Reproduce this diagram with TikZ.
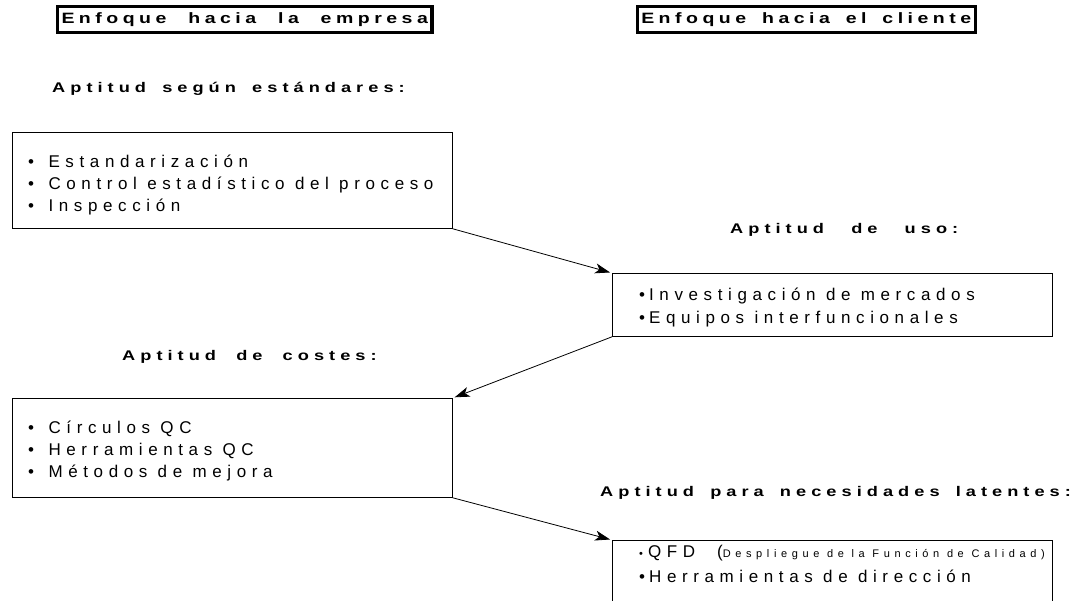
\documentclass[tikz,border=0pt]{standalone}
\usepackage{fontspec}
\setmainfont{Liberation Sans}
\newfontfamily\lista[LetterSpace=33]{Liberation Sans}
\newfontfamily\rotulo[LetterSpace=36, FakeStretch=1.3, WordSpace=1.6]{Liberation Sans}
\newfontfamily\encabezado[LetterSpace=30, FakeStretch=1.3, WordSpace=1.6]{Liberation Sans}
\newfontfamily\nota[LetterSpace=42]{Liberation Sans}
\usepackage{tikz}
\usetikzlibrary{positioning,arrows.meta}
\newcommand{\vineta}[1]{\textbullet\hspace{#1}}

\begin{document}
\begin{tikzpicture}[x=1pt, y=-1pt,
    caja/.style={draw, line width=0.8pt, minimum width=440pt, anchor=north west, inner sep=0pt},
    texto/.style={anchor=north west, inner sep=0pt, align=left, font=\lista\fontsize{17}{22}\selectfont},
    titulo/.style={anchor=base west, inner sep=0pt, font=\rotulo\bfseries\fontsize{14}{17}\selectfont},
    cabecera/.style={draw, line width=3.5pt, anchor=north west, minimum height=26pt, inner xsep=4pt, font=\encabezado\bfseries\fontsize{15}{18}\selectfont},
    flecha/.style={-{Stealth[length=15pt, width=10pt, inset=4pt]}, line width=0.8pt, shorten >=2pt}]
        \useasboundingbox (0,0) rectangle (1071,600);

        % Cabeceras
        \node[cabecera] (E1) at (55.75,4.75) {Enfoque\hspace{6pt} hacia\hspace{6pt} la\hspace{6pt} empresa\hspace{6pt}};
        \node[cabecera] (E2) at (635.5,4.75) {Enfoque hacia el cliente\hspace{4pt}};

        % Titulos
        \node[titulo] (T1) at (52,92) {Aptitud según estándares:};
        \node[titulo] (T2) at (730,233) {Aptitud\hspace{11pt} de\hspace{11pt} uso:};
        \node[titulo] (T3) at (122,360) {Aptitud\hspace{4pt} de\hspace{4pt} costes:};
        \node[titulo] (T4) at (600,496) {Aptitud para necesidades latentes:};

        % Cajas
        \node[caja, minimum height=96pt] (C1) at (12,132) {};
        \node[caja, minimum height=63pt] (C2) at (612,273) {};
        \node[caja, minimum height=99pt] (C3) at (12,398) {};
        \node[caja, minimum height=80pt] (C4) at (612,540) {};

        % Contenido
        \node[texto] (L1) at (28,154.6) {\vineta{14.4pt}Estandarización\\
            \vineta{14.4pt}Control estadístico del proceso\\
            \vineta{14.4pt}Inspección};
        \node[texto, font=\lista\fontsize{17}{23}\selectfont] (L2) at (639,287.6) {\vineta{4pt}Investigación de mercados\\
            \vineta{4pt}Equipos interfuncionales};
        \node[texto] (L3) at (28,420.6) {\vineta{14.4pt}Círculos QC\\
            \vineta{14.4pt}Herramientas QC\\
            \vineta{14.4pt}Métodos de mejora};
        \node[texto, font=\lista\fontsize{17}{25}\selectfont] (L4) at (639,544.6) {{\nota\fontsize{11}{13}\selectfont\textbullet}\hspace{5pt}QFD\hspace{22pt}({\nota\fontsize{11}{13}\selectfont Despliegue de la Función de Calidad)}\\
            \vineta{4pt}Herramientas de dirección};

        % Flechas
        \draw[flecha] (C1.south east) -- (C2.north west);
        \draw[flecha] (C2.south west) -- (C3.north east);
        \draw[flecha] (C3.south east) -- (C4.north west);
    \end{tikzpicture}
\end{document}
